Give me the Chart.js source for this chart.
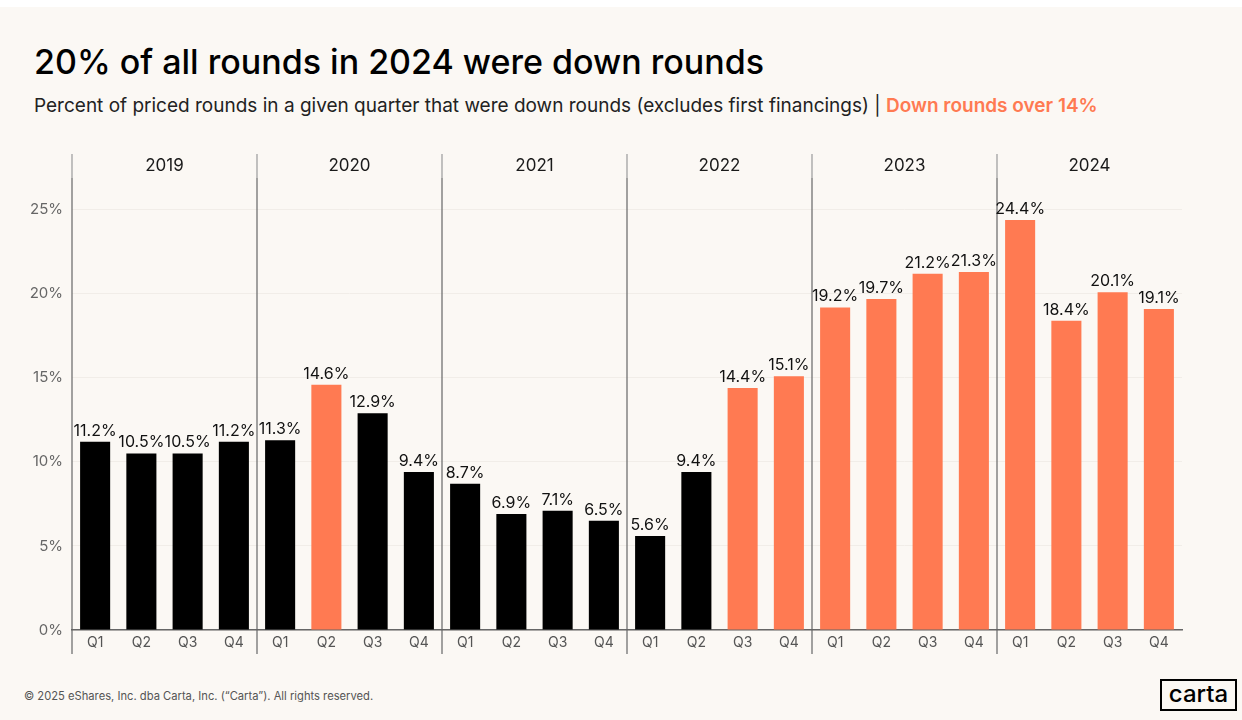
<!DOCTYPE html>
<html>
<head>
<meta charset="utf-8">
<script src="https://cdn.jsdelivr.net/npm/chart.js@4/dist/chart.umd.min.js"></script>
<style>
  html, body { margin: 0; padding: 0; background: #fff; }
  #page {
    position: absolute; left: 0; top: 7px; width: 1242px; height: 713px;
    background: #FBF8F4; font-family: Inter, "Noto Sans", sans-serif;
  }
  #title {
    position: absolute; left: 34px; top: 34px; font-size: 34px; font-weight: 500;
    color: #000; letter-spacing: 0; white-space: nowrap;
  }
  #subtitle {
    position: absolute; left: 34px; top: 87px; font-size: 19px; color: #222;
    letter-spacing: 0; white-space: nowrap;
  }
  #subtitle b { color: #FF7A52; font-weight: 600; }
  #chartBox { position: absolute; left: 0; top: 129px; width: 1242px; height: 530px; }
  #footer {
    position: absolute; left: 24px; top: 682px; font-size: 11.2px; color: #555;
    white-space: nowrap;
  }
  #logo {
    position: absolute; left: 1160px; top: 672px; width: 73px; height: 28px;
    border: 2px solid #000; font-size: 24px; line-height: 26px; text-align: center;
    color: #000; font-weight: 500;
  }
</style>
</head>
<body>
<div id="page">
  <div id="title">20% of all rounds in 2024 were down rounds</div>
  <div id="subtitle">Percent of priced rounds in a given quarter that were down rounds (excludes first financings) | <b>Down rounds over 14%</b></div>
  <div id="chartBox"><canvas id="chart" width="1242" height="530"></canvas></div>
  <div id="footer">© 2025 eShares, Inc. dba Carta, Inc. (“Carta”). All rights reserved.</div>
  <div id="logo">carta</div>
</div>
<script>
const years = ['2019', '2020', '2021', '2022', '2023', '2024'];
const quarters = ['Q1', 'Q2', 'Q3', 'Q4'];
const downRoundPct = [
  11.2, 10.5, 10.5, 11.2,
  11.3, 14.6, 12.9, 9.4,
  8.7, 6.9, 7.1, 6.5,
  5.6, 9.4, 14.4, 15.1,
  19.2, 19.7, 21.2, 21.3,
  24.4, 18.4, 20.1, 19.1
];
const yTicks = [0, 5, 10, 15, 20, 25];
const threshold = 14;

const orange = '#FF7A52';
const labels = years.flatMap(y => quarters.map(q => q));
const colors = downRoundPct.map(v => v > threshold ? orange : '#000000');

// year dividers, year names and value labels
const decorations = {
  id: 'decorations',
  afterDatasetsDraw(chart) {
    const ctx = chart.ctx;
    const x = chart.scales.x;
    const area = chart.chartArea;
    const per = quarters.length;
    ctx.save();
    years.forEach((yr, i) => {
      const first = x.getPixelForValue(i * per);
      const last = x.getPixelForValue(i * per + per - 1);
      const step = x.getPixelForValue(1) - x.getPixelForValue(0);
      const left = first - step / 2;
      ctx.strokeStyle = '#9a9a9a';
      ctx.lineWidth = 1.2;
      ctx.beginPath();
      ctx.moveTo(left, area.top);
      ctx.lineTo(left, area.top + 24);
      ctx.stroke();
      ctx.strokeStyle = '#666';
      ctx.beginPath();
      ctx.moveTo(left, area.top + 24);
      ctx.lineTo(left, area.bottom + 24);
      ctx.stroke();
      ctx.fillStyle = '#1a1a1a';
      ctx.font = '17px Inter, "Noto Sans", sans-serif';
      ctx.textAlign = 'center';
      ctx.textBaseline = 'middle';
      ctx.fillText(yr, (first + last) / 2, area.top + 12);
    });
    const meta = chart.getDatasetMeta(0);
    ctx.font = '16px Inter, "Noto Sans", sans-serif';
    ctx.fillStyle = '#111';
    ctx.textAlign = 'center';
    ctx.textBaseline = 'bottom';
    meta.data.forEach((bar, i) => {
      ctx.fillText(downRoundPct[i].toFixed(1) + '%', bar.x, bar.y - 3);
    });
    ctx.restore();
  }
};

new Chart(document.getElementById('chart'), {
  type: 'bar',
  data: {
    labels: labels,
    datasets: [{
      data: downRoundPct,
      backgroundColor: colors,
      borderWidth: 0,
      categoryPercentage: 1,
      barPercentage: 0.65
    }]
  },
  options: {
    responsive: false,
    animation: false,
    events: [],
    layout: { padding: { top: 8, right: 60, bottom: 10, left: 0 } },
    plugins: { legend: { display: false }, tooltip: { enabled: false } },
    scales: {
      x: {
        grid: { display: false },
        border: { color: '#666', width: 1.5 },
        ticks: { color: '#555', font: { size: 14, family: 'Inter, "Noto Sans", sans-serif' }, padding: -4 },
        afterFit(scale) { scale.height = 26; }
      },
      y: {
        min: 0,
        max: 28.33,
        afterBuildTicks(scale) { scale.ticks = yTicks.map(v => ({ value: v })); },
        grid: { color: '#F1EDE8', lineWidth: 1, drawTicks: false },
        border: { display: false },
        ticks: {
          color: '#666', padding: 9,
          font: { size: 15, family: 'Inter, "Noto Sans", sans-serif' },
          callback: v => v + '%'
        },
        afterFit(scale) { scale.width = 72; }
      }
    }
  },
  plugins: [decorations]
});
</script>
</body>
</html>
